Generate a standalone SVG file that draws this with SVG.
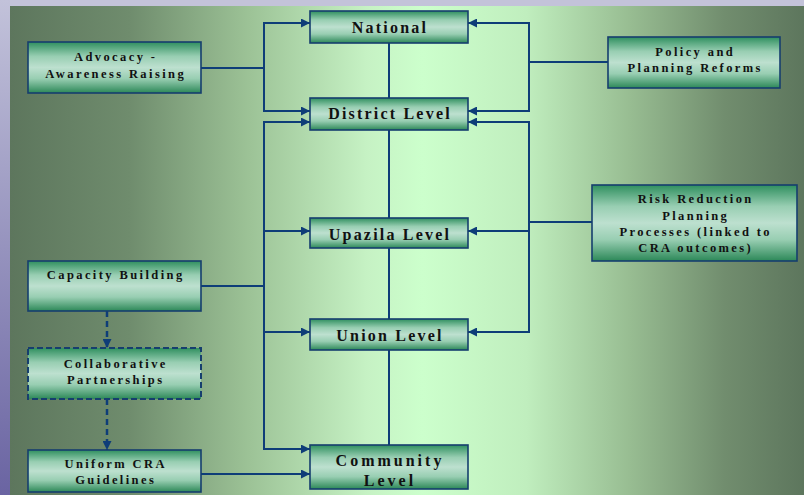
<svg xmlns="http://www.w3.org/2000/svg" width="804" height="495" viewBox="0 0 804 495">
<defs>
<linearGradient id="panel" x1="0" y1="0" x2="1" y2="0">
<stop offset="0" stop-color="#5d765d"/>
<stop offset="0.15" stop-color="#6f8c6d"/>
<stop offset="0.3" stop-color="#9cc296"/>
<stop offset="0.45" stop-color="#c6f2c4"/>
<stop offset="0.52" stop-color="#ccffcc"/>
<stop offset="0.65" stop-color="#c0eebe"/>
<stop offset="0.78" stop-color="#98bd92"/>
<stop offset="0.9" stop-color="#718d6e"/>
<stop offset="1" stop-color="#5d765d"/>
</linearGradient>
<linearGradient id="strip" x1="0" y1="0" x2="0" y2="1">
<stop offset="0" stop-color="#c2c2da"/>
<stop offset="1" stop-color="#6a64a2"/>
</linearGradient>
<linearGradient id="box" x1="0" y1="0" x2="0" y2="1">
<stop offset="0" stop-color="#2f8f5f"/>
<stop offset="0.28" stop-color="#98ceb2"/>
<stop offset="0.5" stop-color="#bde0cf"/>
<stop offset="0.72" stop-color="#98ceb2"/>
<stop offset="1" stop-color="#2c8858"/>
</linearGradient>
<marker id="ah" viewBox="0 0 10 10" refX="10" refY="5" markerWidth="10" markerHeight="9" markerUnits="userSpaceOnUse" orient="auto">
<path d="M0,0 L10,5 L0,10 z" fill="#0e3d78"/>
</marker>
<style>
.b{fill:url(#box);stroke:#163e6e;stroke-width:1.6}
.bd{fill:url(#box);stroke:#163e6e;stroke-width:2;stroke-dasharray:6 3}
.c{fill:none;stroke:#0e3d78;stroke-width:2}
.a{fill:none;stroke:#0e3d78;stroke-width:2;marker-end:url(#ah)}
.ad{fill:none;stroke:#0e3d78;stroke-width:2.5;stroke-dasharray:6 4;marker-end:url(#ah)}
.t{font-family:"Liberation Serif","Times New Roman",serif;font-weight:bold;fill:#111;text-anchor:middle}
.s{font-size:12.5px;letter-spacing:2.4px}
.l{font-size:16px;letter-spacing:2.2px}
</style>
</defs>
<rect x="0" y="0" width="804" height="495" fill="#c3c3d9"/>
<rect x="0" y="0" width="10" height="495" fill="url(#strip)"/>
<rect x="10" y="6" width="794" height="489" fill="url(#panel)"/>

<g id="connectors">
<path class="c" d="M389,43 V445"/>
<path class="c" d="M201,68 H264"/>
<path class="a" d="M264,68 V23 H310"/>
<path class="a" d="M264,68 V111 H310"/>
<path class="c" d="M201,286 H264"/>
<path class="a" d="M264,286 V122 H310"/>
<path class="a" d="M264,231 H310"/>
<path class="a" d="M264,332 H310"/>
<path class="a" d="M264,286 V449 H310"/>
<path class="a" d="M201,474 H310"/>
<path class="c" d="M608,62 H529"/>
<path class="a" d="M529,62 V23 H468"/>
<path class="a" d="M529,62 V111 H468"/>
<path class="c" d="M592,222 H529"/>
<path class="a" d="M529,222 V122 H468"/>
<path class="a" d="M529,231 H468"/>
<path class="a" d="M529,222 V332 H468"/>
<path class="ad" d="M107,311 V348"/>
<path class="ad" d="M107,399 V450"/>
</g>

<g id="advocacy"><rect class="b" x="28" y="42" width="173" height="51"/>
<text class="t s" x="115.7" y="61">Advocacy -</text>
<text class="t s" x="115.7" y="78">Awareness Raising</text></g>

<g id="capacity"><rect class="b" x="28" y="261" width="173" height="50"/>
<text class="t s" x="115.7" y="279">Capacity Building</text></g>

<g id="collaborative"><rect class="bd" x="28" y="348" width="173" height="51"/>
<text class="t s" x="115.7" y="368">Collaborative</text>
<text class="t s" x="115.7" y="384">Partnerships</text></g>

<g id="uniform"><rect class="b" x="28" y="450" width="173" height="42"/>
<text class="t s" x="115.7" y="468">Uniform CRA</text>
<text class="t s" x="115.7" y="484">Guidelines</text></g>

<g id="national"><rect class="b" x="310" y="11" width="158" height="32"/>
<text class="t l" x="390" y="33">National</text></g>

<g id="district"><rect class="b" x="310" y="98" width="158" height="32"/>
<text class="t l" x="390" y="119">District Level</text></g>

<g id="upazila"><rect class="b" x="310" y="218" width="158" height="30"/>
<text class="t l" x="390" y="240">Upazila Level</text></g>

<g id="union"><rect class="b" x="310" y="319" width="158" height="31"/>
<text class="t l" x="390" y="341">Union Level</text></g>

<g id="community"><rect class="b" x="310" y="445" width="158" height="44"/>
<text class="t l" x="390" y="466" style="letter-spacing:3px">Community</text>
<text class="t l" x="390" y="486" style="letter-spacing:3px">Level</text></g>

<g id="policy"><rect class="b" x="608" y="37" width="172" height="51"/>
<text class="t s" x="695.2" y="56">Policy and</text>
<text class="t s" x="695.2" y="72">Planning Reforms</text></g>

<g id="risk"><rect class="b" x="592" y="185" width="205" height="76"/>
<text class="t s" x="695.7" y="203">Risk Reduction</text>
<text class="t s" x="695.7" y="220">Planning</text>
<text class="t s" x="695.7" y="236">Processes (linked to</text>
<text class="t s" x="695.7" y="252">CRA outcomes)</text></g>
</svg>
